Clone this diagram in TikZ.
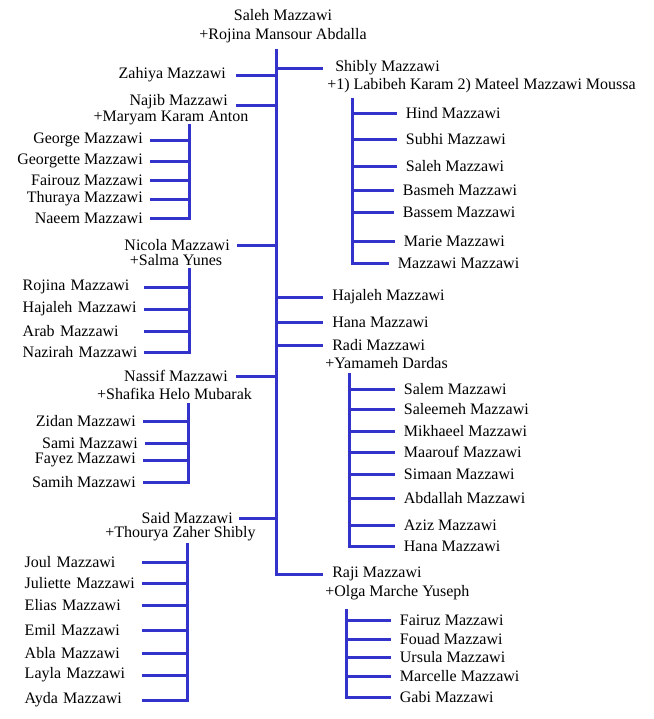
\documentclass[tikz,border=0pt]{standalone}
\usepackage{fontspec}
\setmainfont{Liberation Serif}
\usetikzlibrary{positioning}
\definecolor{lineblue}{RGB}{51,51,204}

\begin{document}
\begin{tikzpicture}[
        x=0.75pt, y=-0.75pt,
        person/.style={inner xsep=0pt, inner ysep=0pt, font=\fontsize{12}{14}\selectfont},
        lperson/.style={person, anchor=east, inner xsep=6pt},
        rperson/.style={person, anchor=west, inner xsep=6.75pt},
        lkid/.style={person, anchor=east, inner xsep=5.25pt},
        rkid/.style={person, anchor=west, inner xsep=6.5pt},
        lkidl/.style={person, anchor=east, align=left, text width=#1},
        spouse/.style={person},
        link/.style={draw=lineblue, line width=2.25pt}
    ]
    \useasboundingbox (0,0) rectangle (654,719);

    % Root couple
    \node[person] (saleh) at (283,15) {Saleh Mazzawi};
    \node[spouse] (rojina) at (283,36) {+Rojina Mansour Abdalla};
    \coordinate (trunk) at (276,49);

    % Left branch
    \node[lperson, inner xsep=7.5pt] (zahiya) at (236,75) {Zahiya Mazzawi};
    \node[lperson, anchor=base east] (najib) at (236,105) {Najib Mazzawi};
    \node[spouse] (najibw) at (171,118) {+Maryam Karam Anton};
    \node[lperson, inner xsep=5.25pt] (nicola) at (237,245) {Nicola Mazzawi};
    \node[spouse] (nicolaw) at (176,260) {+Salma Yunes};
    \node[lperson] (nassif) at (236,376) {Nassif Mazzawi};
    \node[spouse] (nassifw) at (174.5,394) {+Shafika Helo Mubarak};
    \node[lperson, inner xsep=4.5pt] (said) at (239,518) {Said Mazzawi};
    \node[spouse] (saidw) at (180.5,534) {+Thourya Zaher Shibly};

    % Right branch
    \node[rperson, inner xsep=9pt] (shibly) at (323,68) {Shibly Mazzawi};
    \node[spouse, anchor=west] (shiblyw) at (327,86) {+1) Labibeh Karam 2) Mateel Mazzawi Moussa};
    \node[rperson] (hajaleh) at (323,297) {Hajaleh Mazzawi};
    \node[rperson] (hana) at (323,322) {Hana Mazzawi};
    \node[rperson] (radi) at (323,345) {Radi Mazzawi};
    \node[spouse, anchor=west] (radiw) at (325,363) {+Yamameh Dardas};
    \node[rperson] (raji) at (323,574) {Raji Mazzawi};
    \node[spouse, anchor=west] (rajiw) at (325,593) {+Olga Marche Yuseph};

    % Trunk
    \draw[link] (trunk) |- (raji.west);
    \draw[link] (zahiya.east) -- (zahiya.east -| trunk);
    \draw[link] (najib.base east) -- (najib.base east -| trunk);
    \draw[link] (nicola.east) -- (nicola.east -| trunk);
    \draw[link] (nassif.east) -- (nassif.east -| trunk);
    \draw[link] (said.east) -- (said.east -| trunk);
    \draw[link] (shibly.west -| trunk) -- (shibly.west);
    \draw[link] (hajaleh.west -| trunk) -- (hajaleh.west);
    \draw[link] (hana.west -| trunk) -- (hana.west);
    \draw[link] (radi.west -| trunk) -- (radi.west);

    % Najib's children
    \coordinate (najibbar) at (189,124);
    \node[lkid] (george) at (150,140) {George Mazzawi};
    \node[lkid] (georgette) at (150,161) {Georgette Mazzawi};
    \node[lkid] (fairouz) at (150,180) {Fairouz Mazzawi};
    \node[lkid] (thuraya) at (150,199) {Thuraya Mazzawi};
    \node[lkid] (naeem) at (150,218) {Naeem Mazzawi};
    \draw[link] (najibbar) |- (naeem.east);
    \draw[link] (george.east) -- (george.east -| najibbar);
    \draw[link] (georgette.east) -- (georgette.east -| najibbar);
    \draw[link] (fairouz.east) -- (fairouz.east -| najibbar);
    \draw[link] (thuraya.east) -- (thuraya.east -| najibbar);

    % Nicola's children
    \coordinate (nicolabar) at (189,268);
    \node[lkidl=90.75pt] (rojinak) at (144,287) {Rojina Mazzawi};
    \node[lkidl=90.75pt] (hajalehk) at (144,309) {Hajaleh Mazzawi};
    \node[lkidl=90.75pt] (arab) at (144,331) {Arab Mazzawi};
    \node[lkidl=90.75pt] (nazirah) at (144,352) {Nazirah Mazzawi};
    \draw[link] (nicolabar) |- (nazirah.east);
    \draw[link] (rojinak.east) -- (rojinak.east -| nicolabar);
    \draw[link] (hajalehk.east) -- (hajalehk.east -| nicolabar);
    \draw[link] (arab.east) -- (arab.east -| nicolabar);

    % Nassif's children
    \coordinate (nassifbar) at (188,403);
    \node[lkid] (zidan) at (143,421) {Zidan Mazzawi};
    \node[lkid] (sami) at (145,443) {Sami Mazzawi};
    \node[lkid] (fayez) at (143,460) {Fayez Mazzawi};
    \node[lkid] (samih) at (143,482) {Samih Mazzawi};
    \draw[link] (nassifbar) |- (samih.east);
    \draw[link] (zidan.east) -- (zidan.east -| nassifbar);
    \draw[link] (sami.east) -- (sami.east -| nassifbar);
    \draw[link] (fayez.east) -- (fayez.east -| nassifbar);

    % Said's children
    \coordinate (saidbar) at (187,543);
    \node[lkidl=87.75pt] (joul) at (142,562) {Joul Mazzawi};
    \node[lkidl=87.75pt] (juliette) at (142,583) {Juliette Mazzawi};
    \node[lkidl=87.75pt] (elias) at (142,605) {Elias Mazzawi};
    \node[lkidl=87.75pt] (emil) at (142,630) {Emil Mazzawi};
    \node[lkidl=87.75pt] (abla) at (142,653) {Abla Mazzawi};
    \node[lkidl=87.75pt] (layla) at (142,675) {Layla Mazzawi};
    \node[lkidl=87.75pt] (ayda) at (142,700) {Ayda Mazzawi};
    \draw[link] (saidbar) |- (ayda.east);
    \draw[link] (joul.east) -- (joul.east -| saidbar);
    \draw[link] (juliette.east) -- (juliette.east -| saidbar);
    \draw[link] (elias.east) -- (elias.east -| saidbar);
    \draw[link] (emil.east) -- (emil.east -| saidbar);
    \draw[link] (abla.east) -- (abla.east -| saidbar);
    \draw[link] (layla.east) -- (layla.east -| saidbar);

    % Shibly's children
    \coordinate (shiblybar) at (352,98);
    \node[rkid] (hind) at (397,113) {Hind Mazzawi};
    \node[rkid] (subhi) at (397,139) {Subhi Mazzawi};
    \node[rkid] (salehk) at (397,166) {Saleh Mazzawi};
    \node[rkid] (basmeh) at (394,190) {Basmeh Mazzawi};
    \node[rkid] (bassem) at (394,212) {Bassem Mazzawi};
    \node[rkid] (marie) at (395,241) {Marie Mazzawi};
    \node[rkid] (mazzawi) at (389,263) {Mazzawi Mazzawi};
    \draw[link] (shiblybar) |- (mazzawi.west);
    \draw[link] (hind.west -| shiblybar) -- (hind.west);
    \draw[link] (subhi.west -| shiblybar) -- (subhi.west);
    \draw[link] (salehk.west -| shiblybar) -- (salehk.west);
    \draw[link] (basmeh.west -| shiblybar) -- (basmeh.west);
    \draw[link] (bassem.west -| shiblybar) -- (bassem.west);
    \draw[link] (marie.west -| shiblybar) -- (marie.west);

    % Radi's children
    \coordinate (radibar) at (349,373);
    \node[rkid] (salem) at (395,389) {Salem Mazzawi};
    \node[rkid] (saleemeh) at (395,409) {Saleemeh Mazzawi};
    \node[rkid] (mikhaeel) at (395,431) {Mikhaeel Mazzawi};
    \node[rkid] (maarouf) at (395,452) {Maarouf Mazzawi};
    \node[rkid] (simaan) at (395,474) {Simaan Mazzawi};
    \node[rkid] (abdallah) at (395,498) {Abdallah Mazzawi};
    \node[rkid] (aziz) at (395,525) {Aziz Mazzawi};
    \node[rkid] (hanak) at (395,546) {Hana Mazzawi};
    \draw[link] (radibar) |- (hanak.west);
    \draw[link] (salem.west -| radibar) -- (salem.west);
    \draw[link] (saleemeh.west -| radibar) -- (saleemeh.west);
    \draw[link] (mikhaeel.west -| radibar) -- (mikhaeel.west);
    \draw[link] (maarouf.west -| radibar) -- (maarouf.west);
    \draw[link] (simaan.west -| radibar) -- (simaan.west);
    \draw[link] (abdallah.west -| radibar) -- (abdallah.west);
    \draw[link] (aziz.west -| radibar) -- (aziz.west);

    % Raji's children
    \coordinate (rajibar) at (346,609);
    \node[rkid] (fairuz) at (391,620) {Fairuz Mazzawi};
    \node[rkid] (fouad) at (391,639) {Fouad Mazzawi};
    \node[rkid] (ursula) at (391,657) {Ursula Mazzawi};
    \node[rkid] (marcelle) at (391,676) {Marcelle Mazzawi};
    \node[rkid] (gabi) at (391,697) {Gabi Mazzawi};
    \draw[link] (rajibar) |- (gabi.west);
    \draw[link] (fairuz.west -| rajibar) -- (fairuz.west);
    \draw[link] (fouad.west -| rajibar) -- (fouad.west);
    \draw[link] (ursula.west -| rajibar) -- (ursula.west);
    \draw[link] (marcelle.west -| rajibar) -- (marcelle.west);
\end{tikzpicture}
\end{document}
